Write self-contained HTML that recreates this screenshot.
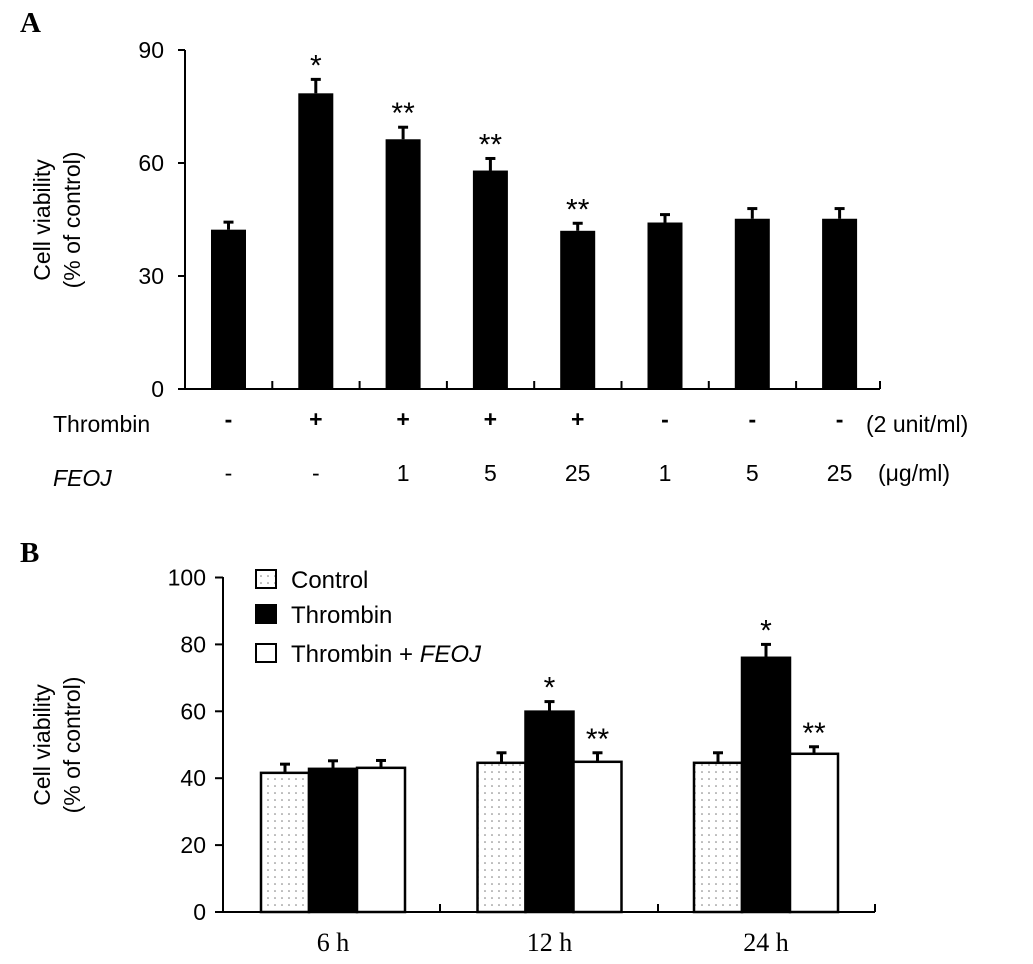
<!DOCTYPE html>
<html><head><meta charset="utf-8"><style>
body{margin:0;background:#fff}
svg text{font-family:"Liberation Sans",Arial,sans-serif;fill:#000}
</style></head><body>
<svg width="1033" height="959" viewBox="0 0 1033 959" xmlns="http://www.w3.org/2000/svg">
<defs><pattern id="dots" width="7" height="7" patternUnits="userSpaceOnUse"><rect width="7" height="7" fill="#fff"/><circle cx="2" cy="2" r="0.8" fill="#777"/></pattern></defs>
<text x="20" y="32" font-weight="bold" font-size="29" style="font-family:'Liberation Serif',serif">A</text>
<text x="20" y="562" font-weight="bold" font-size="29" style="font-family:'Liberation Serif',serif">B</text>
<g id="pa"></g>
<g id="pb"></g>
</svg>
<script>
const aValues=[42.3,78.5,66.3,58,42,44.2,45.2,45.2];
const aErrors=[2,3.7,3.2,3.2,2,2.1,2.7,2.7];
const aStars=["","*","**","**","**","","",""];
const aThrombin=["-","+","+","+","+","-","-","-"];
const aFeoj=["-","-","1","5","25","1","5","25"];
const aTicks=[0,30,60,90];
const bGroups=["6 h","12 h","24 h"];
const bControl=[41.6,44.6,44.6];
const bThrombin=[42.8,59.9,76];
const bFeoj=[43.1,44.9,47.3];
const bControlErr=[2.6,3,3];
const bThrombinErr=[2.4,3,4];
const bFeojErr=[2.2,2.7,2.1];
const bThrombinStars=["","*","*"];
const bFeojStars=["","**","**"];
const bTicks=[0,20,40,60,80,100];
const NS="http://www.w3.org/2000/svg";
const FS=23;
function mk(p,t,a,txt){const e=document.createElementNS(NS,t);for(const k in a)e.setAttribute(k,a[k]);if(txt!==undefined)e.textContent=txt;p.appendChild(e);return e;}
// Panel A
const pa=document.getElementById('pa');
const aY=v=>389-(v/90)*339;
const aX=i=>211+87.3*i;
mk(pa,'line',{x1:185,y1:50,x2:185,y2:389,stroke:'#000','stroke-width':2});
mk(pa,'line',{x1:178,y1:389,x2:880,y2:389,stroke:'#000','stroke-width':2});
aTicks.forEach(t=>{mk(pa,'line',{x1:178,y1:aY(t),x2:185,y2:aY(t),stroke:'#000','stroke-width':2});
const tl=mk(pa,'text',{x:164,y:aY(t)+8,'text-anchor':'end','font-size':FS},t);

});
for(let i=1;i<=8;i++){const x=i<8?aX(i)-26:880;mk(pa,'line',{x1:x,y1:381,x2:x,y2:389,stroke:'#000','stroke-width':2});}
aValues.forEach((v,i)=>{const x=aX(i);
const r=mk(pa,'rect',{x:x,y:aY(v),width:35,height:389-aY(v),fill:'#000'});


const c=x+17.5,et=aY(v+aErrors[i]);
mk(pa,'line',{x1:c,y1:aY(v),x2:c,y2:et,stroke:'#000','stroke-width':3});
mk(pa,'line',{x1:c-5,y1:et,x2:c+5,y2:et,stroke:'#000','stroke-width':3});
if(aStars[i])mk(pa,'text',{x:c,y:et-4,'text-anchor':'middle','font-size':30},aStars[i]);
const t1=mk(pa,'text',{x:c,y:427,'text-anchor':'middle','font-size':FS,'font-weight':'bold'},aThrombin[i]);


const t2=mk(pa,'text',{x:c,y:481,'text-anchor':'middle','font-size':FS},aFeoj[i]);

});
mk(pa,'text',{x:53,y:432,'font-size':FS},'Thrombin');
mk(pa,'text',{x:53,y:486,'font-size':FS,'font-style':'italic'},'FEOJ');
mk(pa,'text',{x:866,y:432,'font-size':FS},'(2 unit/ml)');
mk(pa,'text',{x:878,y:481,'font-size':FS},'(\u03bcg/ml)');
const ya=mk(pa,'text',{x:0,y:0,'text-anchor':'middle','font-size':FS,transform:'translate(50,220) rotate(-90)'},'Cell viability');


mk(pa,'text',{x:0,y:0,'text-anchor':'middle','font-size':FS,transform:'translate(80,220) rotate(-90)'},'(% of control)');
// Panel B
const pb=document.getElementById('pb');
const bY=v=>912-(v/100)*334.5;
const gX=g=>261+216.5*g;
mk(pb,'line',{x1:223,y1:577,x2:223,y2:912,stroke:'#000','stroke-width':2});
mk(pb,'line',{x1:215,y1:912,x2:875,y2:912,stroke:'#000','stroke-width':2});
mk(pb,'line',{x1:875,y1:904,x2:875,y2:912,stroke:'#000','stroke-width':2});
[440,658].forEach(x=>mk(pb,'line',{x1:x,y1:904,x2:x,y2:912,stroke:'#000','stroke-width':2}));
bTicks.forEach(t=>{mk(pb,'line',{x1:215,y1:bY(t),x2:223,y2:bY(t),stroke:'#000','stroke-width':2});
const tl=mk(pb,'text',{x:206,y:bY(t)+8,'text-anchor':'end','font-size':FS},t);

});
const series=[[bControl,bControlErr,'url(#dots)',[]],[bThrombin,bThrombinErr,'#000',bThrombinStars],[bFeoj,bFeojErr,'#fff',bFeojStars]];
bGroups.forEach((g,gi)=>{
series.forEach((s,si)=>{const v=s[0][gi],x=gX(gi)+48*si;
const r=mk(pb,'rect',{x:x,y:bY(v),width:48,height:912-bY(v),fill:s[2],stroke:'#000','stroke-width':2.5});


const c=x+24,et=bY(v+s[1][gi]);
mk(pb,'line',{x1:c,y1:bY(v),x2:c,y2:et,stroke:'#000','stroke-width':3});
mk(pb,'line',{x1:c-5,y1:et,x2:c+5,y2:et,stroke:'#000','stroke-width':3});
if(s[3][gi])mk(pb,'text',{x:c,y:et-4,'text-anchor':'middle','font-size':30},s[3][gi]);});
const gl=mk(pb,'text',{x:gX(gi)+72,y:951,'text-anchor':'middle','font-size':26,style:"font-family:'Liberation Serif',serif"},g);

});
[['Control','url(#dots)',570],['Thrombin','#000',605],['Thrombin + ',  '#fff',644]].forEach((l,i)=>{
const b=mk(pb,'rect',{x:256,y:l[2],width:20,height:18,fill:l[1],stroke:'#000','stroke-width':2});


const t=mk(pb,'text',{x:291,y:l[2]+18,'font-size':24},l[0]);


if(i==2){mk(t,'tspan',{'font-style':'italic'},'FEOJ');}});
const yb=mk(pb,'text',{x:0,y:0,'text-anchor':'middle','font-size':FS,transform:'translate(50,745) rotate(-90)'},'Cell viability');


mk(pb,'text',{x:0,y:0,'text-anchor':'middle','font-size':FS,transform:'translate(80,745) rotate(-90)'},'(% of control)');
</script>
</body></html>
